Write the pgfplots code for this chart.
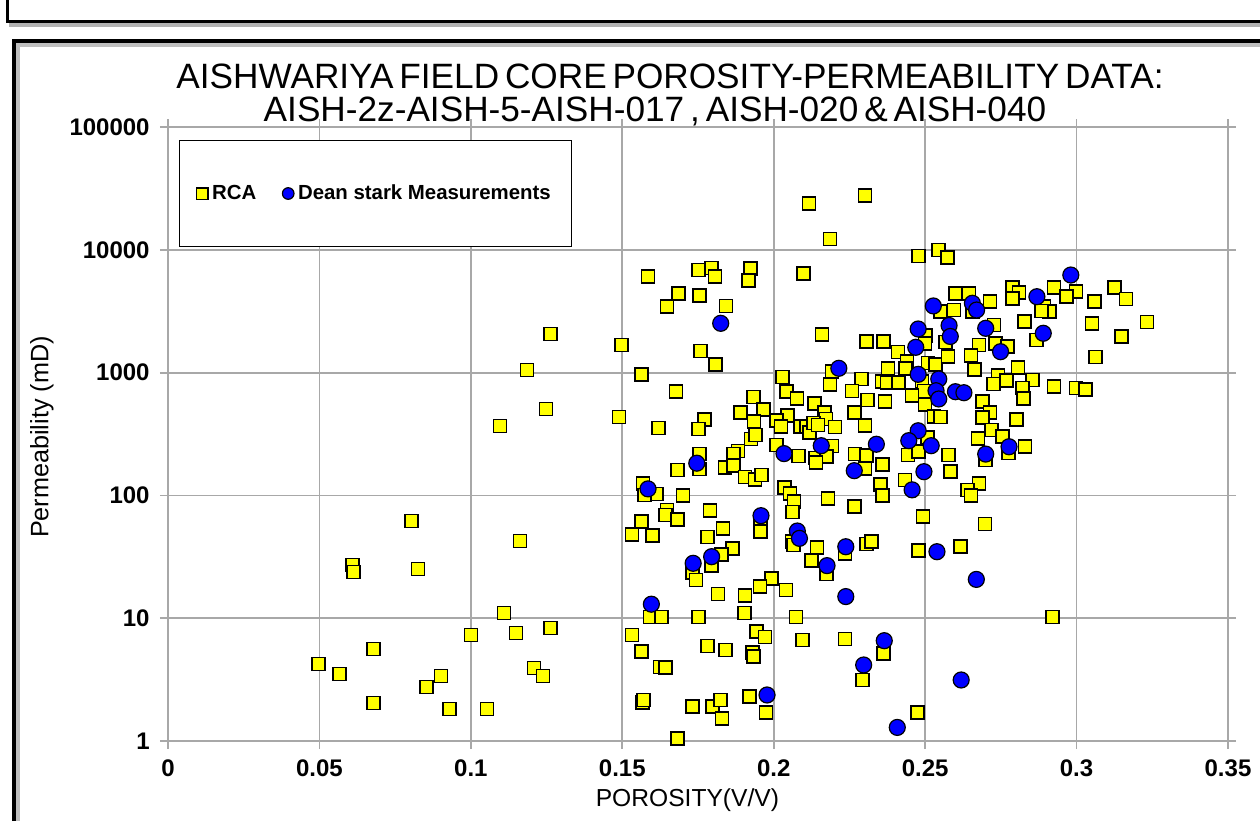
\documentclass[border=0pt]{standalone}
\usepackage{pgfplots}
\pgfplotsset{compat=1.18}
\usepackage{fontspec}
\setmainfont{Liberation Sans}
\newfontfamily\titlefont{Liberation Sans}[WordSpace=0.6]
\definecolor{gridgray}{RGB}{168,168,168}
\definecolor{rcayellow}{RGB}{255,255,0}
\definecolor{dsblue}{RGB}{0,0,255}

\pgfplotstableread{
x y
0.1262 2062
0.1185 1050
0.1248 505
0.1096 367
0.0805 62
0.1162 42.5
0.0609 27.1
0.0613 23.8
0.0825 25.2
0.1109 11.0
0.1000 7.3
0.1149 7.57
0.1262 8.3
0.0679 5.6
0.0497 4.24
0.0566 3.51
0.0901 3.38
0.0854 2.75
0.1209 3.93
0.1238 3.38
0.0679 2.04
0.0930 1.82
0.1053 1.82
0.1585 6080
0.1751 6850
0.1795 7110
0.1806 6080
0.1924 7070
0.1916 5650
0.1685 4390
0.1754 4230
0.1647 3470
0.1843 3490
0.1497 1680
0.1758 1500
0.1808 1170
0.1563 961
0.1678 704
0.1933 633
0.1489 435
0.1619 354
0.1771 413
0.1751 347
0.1890 475
0.1967 503
0.1935 401
0.1925 288
0.1940 310
0.1882 230
0.1867 217
0.1754 217
0.1755 164
0.1682 161
0.1839 168
0.1868 175
0.1905 141
0.1938 135
0.1959 147
0.1569 125
0.1613 103
0.1574 101
0.1701 100
0.1648 76
0.1642 69
0.1682 64
0.1789 75
0.1563 61
0.1532 48
0.1600 47
0.1956 60
0.1956 51
0.1832 54
0.1781 46
0.1863 37
0.1828 33
0.1795 27
0.1731 23.5
0.1744 20.4
0.1993 21.1
0.1955 18.1
0.1816 15.7
0.1905 15.3
0.1592 10.2
0.1630 10.2
0.1751 10.2
0.1904 11.0
0.1532 7.3
0.1944 7.8
0.1971 7.03
0.1563 5.37
0.1781 5.94
0.1840 5.51
0.1929 5.24
0.1933 4.86
0.1624 4.0
0.1643 3.95
0.1566 2.05
0.1570 2.16
0.1732 1.90
0.1797 1.90
0.1824 2.16
0.1829 1.52
0.1921 2.31
0.1974 1.70
0.1682 1.05
0.2117 23700
0.2302 27800
0.2186 12200
0.2479 8910
0.2544 10000
0.2573 8690
0.2098 6440
0.2551 3130
0.2501 1995
0.2499 1730
0.2567 1770
0.2159 2040
0.2306 1790
0.2363 1790
0.2410 1470
0.2440 1230
0.2510 1200
0.2534 1170
0.2575 1350
0.2377 1080
0.2435 1075
0.2192 1017
0.2029 921
0.2290 887
0.2186 797
0.2358 843
0.2374 827
0.2413 827
0.2490 843
0.2496 708
0.2457 653
0.2500 552
0.2043 699
0.2258 708
0.2309 598
0.2367 584
0.2077 618
0.2135 562
0.2168 475
0.2045 446
0.2266 475
0.2173 419
0.2010 409
0.2024 362
0.2088 362
0.2108 362
0.2118 326
0.2131 389
0.2146 374
0.2203 361
0.2302 370
0.2529 441
0.2551 435
0.2507 297
0.2192 253
0.2010 257
0.2082 209
0.2269 217
0.2306 212
0.2137 201
0.2175 207
0.2444 213
0.2479 227
0.2578 213
0.2140 185
0.2302 166
0.2359 178
0.2584 156
0.2433 133
0.2352 122
0.2359 100
0.2035 116
0.2054 104
0.2067 89
0.2063 73
0.2179 94
0.2267 81
0.2493 67
0.2060 42
0.2065 39.5
0.2143 37.5
0.2236 33.8
0.2306 40.2
0.2322 42
0.2479 35.5
0.2124 29.4
0.2175 22.9
0.2040 17.0
0.2073 10.2
0.2096 6.64
0.2236 6.77
0.2363 5.18
0.2294 3.14
0.2475 1.70
0.2788 4950
0.2810 4470
0.2788 4030
0.2926 4950
0.2998 4590
0.2967 4150
0.3125 4950
0.3163 3970
0.3059 3780
0.2600 4420
0.2645 4420
0.2656 3130
0.2714 3780
0.2893 3440
0.2910 3130
0.2885 3170
0.2595 3230
0.2828 2620
0.3051 2520
0.2727 2440
0.2868 1840
0.3149 1960
0.3232 2580
0.2678 1680
0.2733 1730
0.2772 1625
0.2652 1380
0.3062 1340
0.2663 1064
0.2807 1105
0.2741 944
0.2725 808
0.2768 859
0.2854 871
0.2821 749
0.2825 618
0.2926 768
0.2998 749
0.3029 731
0.2689 579
0.2714 471
0.2689 429
0.2801 417
0.2719 341
0.2675 292
0.2755 301
0.2830 249
0.2775 221
0.2700 194
0.2678 125
0.2639 111
0.2652 99.5
0.2698 58.5
0.2617 38.2
0.2921 10.2
}\rcadata

\pgfplotstableread{
x y
0.1825 2520
0.2527 3490
0.2477 2265
0.2579 2420
0.2583 1970
0.2469 1607
0.2656 3670
0.2670 3235
0.2869 4150
0.2981 6230
0.2700 2295
0.2890 2090
0.2749 1480
0.2215 1084
0.2477 968
0.2545 887
0.2536 712
0.2545 610
0.2600 699
0.2628 686
0.2477 336
0.2446 279
0.2520 254
0.2339 261
0.2157 254
0.2034 219
0.1746 183
0.1585 113
0.1958 68.4
0.2266 159
0.2496 156
0.2457 111
0.2700 217
0.2777 249
0.2078 51.3
0.2085 44.7
0.2238 38.2
0.2539 34.8
0.2176 26.8
0.1795 31.7
0.1734 28.0
0.2238 15.0
0.2669 20.7
0.1596 13.0
0.2365 6.56
0.2297 4.16
0.1978 2.37
0.2408 1.29
0.2619 3.14
}\dsdata

\begin{document}
\begin{tikzpicture}
\useasboundingbox (0pt,0pt) rectangle (630pt,410.5pt);
% top strip box
\draw[gray!60, line width=2pt] (4.5pt,398pt) -- (630pt,398pt);
\draw[black, line width=1.5pt] (3.5pt,410.5pt) -- (3.5pt,399.5pt) -- (630pt,399.5pt);
% main frame
\draw[gray!50, line width=2pt] (9pt,0pt) -- (9pt,388pt) -- (630pt,388pt);
\draw[black, line width=2pt] (7pt,0pt) -- (7pt,390pt) -- (630pt,390pt);

\node[anchor=base, font=\titlefont\fontsize{17.6}{19}\selectfont] at (335pt,366pt) {AISHWARIYA FIELD CORE POROSITY-PERMEABILITY DATA:};
\node[anchor=base, font=\titlefont\fontsize{17.6}{19}\selectfont] at (327.5pt,349.8pt) {AISH-2z-AISH-5-AISH-017 , AISH-020 \& AISH-040};

\begin{axis}[
  at={(84pt,40pt)}, anchor=south west,
  scale only axis, width=530pt, height=307pt,
  xmin=0, xmax=0.35, ymode=log, ymin=1, ymax=100000,
  xtick={0,0.05,0.1,0.15,0.2,0.25,0.3,0.35},
  xticklabels={0,0.05,0.1,0.15,0.2,0.25,0.3,0.35},
  ytick={1,10,100,1000,10000,100000},
  yticklabels={1,10,100,1000,10000,100000},
  minor tick length=0pt,
  grid=major,
  grid style={gridgray, line width=0.9pt},
  axis line style={gridgray, line width=0.9pt},
  tick style={gridgray, line width=0.9pt},
  tick align=outside, major tick length=4pt,
  xticklabel style={font=\bfseries\fontsize{12}{14}\selectfont, inner sep=0pt, yshift=-5pt},
  yticklabel style={font=\bfseries\fontsize{12}{14}\selectfont, inner sep=0pt, xshift=-5pt},
  xlabel={POROSITY(V/V)},
  ylabel={Permeability (mD)},
  xlabel style={font=\fontsize{12.3}{14}\selectfont, at={(axis description cs:0.49,-0.096)}, anchor=center},
  ylabel style={font=\fontsize{12.6}{14}\selectfont, at={(axis description cs:-0.119,0.495)}, anchor=center},
  legend columns=2,
  legend cell align=left,
  legend image code/.code={\draw[#1, mark size=2.9pt] plot coordinates {(0.2cm,0cm)};},
  legend style={at={(0.0104,0.9788)}, anchor=north west, draw=black, line width=0.6pt, fill=white,
    font=\bfseries\fontsize{10.2}{12}\selectfont, inner xsep=8.5pt, inner ysep=20pt,
    /tikz/every even column/.append style={column sep=11pt}},
]
\addplot[only marks, mark=square*, mark size=3.25pt, mark options={fill=rcayellow, draw=black, line width=0.8pt}] table[x=x,y=y] {\rcadata};
\addlegendentry{RCA}
\addplot[only marks, mark=*, mark size=4pt, mark options={fill=dsblue, draw=black, line width=0.6pt}] table[x=x,y=y] {\dsdata};
\addlegendentry{Dean stark Measurements}
\end{axis}
\end{tikzpicture}
\end{document}
